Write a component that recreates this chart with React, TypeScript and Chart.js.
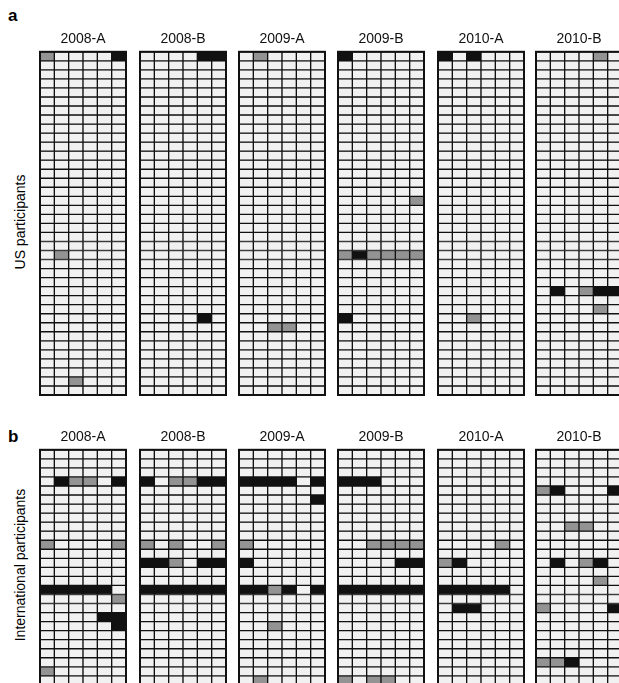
import React, { useEffect, useRef } from 'react';
import { Chart, registerables } from 'chart.js';
Chart.register(...registerables);

const panelLabels = ['2008-A', '2008-B', '2009-A', '2009-B', '2010-A', '2010-B'];
const columnIds = ['1', '2', '3', '4', '5', '6'];
const usRowCount = 38;
const intlRowCount = 28;

// marked cells: [row, column, level]  level 1 = grey, 2 = black
const us2008A = [[0, 0, 1], [0, 5, 2], [22, 1, 1], [36, 2, 1]];
const us2008B = [[0, 4, 2], [0, 5, 2], [29, 4, 2]];
const us2009A = [[0, 1, 1], [30, 2, 1], [30, 3, 1]];
const us2009B = [[0, 0, 2], [16, 5, 1], [22, 0, 1], [22, 1, 2], [22, 2, 1], [22, 3, 1], [22, 4, 1], [22, 5, 1], [29, 0, 2]];
const us2010A = [[0, 0, 2], [0, 2, 2], [29, 2, 1]];
const us2010B = [[0, 4, 1], [26, 1, 2], [26, 3, 1], [26, 4, 2], [26, 5, 2], [28, 4, 1]];

const intl2008A = [[3, 1, 2], [3, 2, 1], [3, 3, 1], [3, 5, 2], [10, 0, 1], [10, 5, 1], [15, 0, 2], [15, 1, 2], [15, 2, 2], [15, 3, 2], [15, 4, 2], [16, 5, 1], [18, 4, 2], [18, 5, 2], [19, 5, 2], [24, 0, 1]];
const intl2008B = [[3, 0, 2], [3, 2, 1], [3, 3, 1], [3, 4, 2], [3, 5, 2], [10, 0, 1], [10, 2, 1], [10, 5, 1], [12, 0, 2], [12, 1, 2], [12, 2, 1], [12, 4, 2], [12, 5, 2], [15, 0, 2], [15, 1, 2], [15, 2, 2], [15, 3, 2], [15, 4, 2], [15, 5, 2]];
const intl2009A = [[3, 0, 2], [3, 1, 2], [3, 2, 2], [3, 3, 2], [3, 5, 2], [5, 5, 2], [10, 0, 1], [12, 0, 2], [15, 0, 2], [15, 1, 2], [15, 2, 1], [15, 3, 2], [15, 5, 2], [19, 2, 1], [25, 1, 1]];
const intl2009B = [[3, 0, 2], [3, 1, 2], [3, 2, 2], [10, 2, 1], [10, 3, 1], [10, 4, 1], [10, 5, 1], [12, 4, 2], [12, 5, 2], [15, 0, 2], [15, 1, 2], [15, 2, 2], [15, 3, 2], [15, 4, 2], [15, 5, 2], [25, 0, 1], [25, 2, 1], [25, 3, 1]];
const intl2010A = [[10, 4, 1], [12, 0, 1], [12, 1, 2], [15, 0, 2], [15, 1, 2], [15, 2, 2], [15, 3, 2], [15, 4, 2], [17, 1, 2], [17, 2, 2]];
const intl2010B = [[4, 0, 1], [4, 1, 2], [4, 5, 2], [8, 2, 1], [8, 3, 1], [12, 1, 2], [12, 3, 1], [12, 4, 2], [14, 4, 1], [17, 0, 1], [17, 5, 2], [23, 0, 1], [23, 1, 1], [23, 2, 2]];

const usCells = [us2008A, us2008B, us2009A, us2009B, us2010A, us2010B];
const intlCells = [intl2008A, intl2008B, intl2009A, intl2009B, intl2010A, intl2010B];

const levelColors = ['#f1f1f1', '#939393', '#111111'];
const FONT = "'Liberation Sans', Arial, sans-serif";

const framePlugin = {
  id: 'frame',
  afterDatasetsDraw(chart: any) {
    const { ctx, chartArea } = chart;
    ctx.save();
    ctx.strokeStyle = '#111';
    ctx.lineWidth = 2;
    ctx.strokeRect(chartArea.left, chartArea.top, chartArea.right - chartArea.left, chartArea.bottom - chartArea.top);
    ctx.restore();
  },
};

function Panel(props: { label: string; rows: number; cells: number[][]; left: number; top: number; rowH: number }) {
  const ref = useRef<HTMLCanvasElement>(null);
  const titleH = 21;
  const width = 88;
  const height = Math.round(titleH + props.rows * props.rowH + 2);
  useEffect(() => {
    const matrix: number[][] = [];
    for (let r = 0; r < props.rows; r++) matrix.push(columnIds.map(() => 0));
    props.cells.forEach(([r, c, v]) => {
      if (r < props.rows) matrix[r][c] = v;
    });
    const datasets = matrix.map((row) => ({
      data: columnIds.map(() => 1),
      backgroundColor: row.map((v) => levelColors[v]),
      borderColor: '#111',
      borderWidth: 1,
      borderSkipped: false as const,
      barPercentage: 1,
      categoryPercentage: 1,
    }));
    const chart = new Chart(ref.current!, {
      type: 'bar',
      data: { labels: columnIds, datasets },
      plugins: [framePlugin],
      options: {
        responsive: false,
        animation: false,
        events: [],
        layout: { padding: { left: 1, right: 1, top: 0, bottom: 1 } },
        plugins: {
          legend: { display: false },
          tooltip: { enabled: false },
          title: {
            display: true,
            text: props.label,
            color: '#111',
            font: { family: FONT, size: 14, weight: 'normal' },
            padding: { top: 0, bottom: 4 },
          },
        },
        scales: {
          x: { stacked: true, display: false },
          y: { stacked: true, display: false, min: 0, max: props.rows, reverse: true },
        },
      },
    });
    return () => chart.destroy();
  }, []);
  return (
    <canvas
      ref={ref}
      width={width}
      height={height}
      style={{ position: 'absolute', left: props.left, top: props.top, width, height }}
    />
  );
}

const panelLefts = [39, 139, 238, 337, 437, 535];

export default function App() {
  const rowH = 9;
  return (
    <div style={{ position: 'fixed', left: 0, top: 0, width: 619, height: 683, overflow: 'hidden', background: '#fff', fontFamily: FONT }}>
      <div style={{ position: 'absolute', left: 8, top: 6, fontSize: 17, fontWeight: 'bold' }}>a</div>
      <div style={{ position: 'absolute', left: 8, top: 427, fontSize: 17, fontWeight: 'bold' }}>b</div>
      <div style={{ position: 'absolute', left: 20, top: 222, transform: 'translate(-50%, -50%) rotate(-90deg)', whiteSpace: 'nowrap', fontSize: 14 }}>US participants</div>
      <div style={{ position: 'absolute', left: 20, top: 565, transform: 'translate(-50%, -50%) rotate(-90deg)', whiteSpace: 'nowrap', fontSize: 14 }}>International participants</div>
      {panelLabels.map((label, i) => (
        <Panel key={'us' + i} label={label} rows={usRowCount} cells={usCells[i]} left={panelLefts[i]} top={31} rowH={rowH} />
      ))}
      {panelLabels.map((label, i) => (
        <Panel key={'in' + i} label={label} rows={intlRowCount} cells={intlCells[i]} left={panelLefts[i]} top={429} rowH={rowH} />
      ))}
    </div>
  );
}
